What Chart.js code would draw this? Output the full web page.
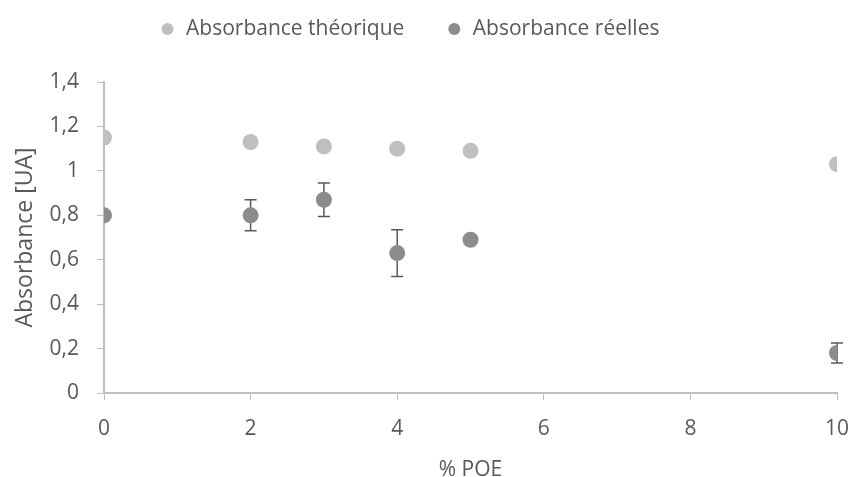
<!DOCTYPE html>
<html>
<head>
<meta charset="utf-8">
<script src="https://cdn.jsdelivr.net/npm/chart.js@4"></script>
<style>
    body { margin: 0; background: #fff; }
    #wrap { width: 851px; height: 477px; }
</style>
</head>
<body>
<div id="wrap"><canvas id="chart"></canvas></div>
<script>
// data
const poe = [0, 2, 3, 4, 5, 10];
const theorique = [1.15, 1.13, 1.11, 1.10, 1.09, 1.03];
const reelles = [0.80, 0.80, 0.87, 0.63, 0.69, 0.18];
const reellesErr = [0, 0.07, 0.075, 0.105, 0.01, 0.045];

const axisColor = '#bfbfbf';
const textColor = '#595959';
const font = "'Open Sans', 'Liberation Sans', sans-serif";

const comma = v => Number(v.toFixed(1)).toString().replace('.', ',');

// error bars for the real absorbance, drawn through the chart scales
const errorBars = {
    id: 'errorBars',
    beforeDatasetsDraw(chart) {
        const { ctx, scales: { x, y } } = chart;
        ctx.save();
        ctx.strokeStyle = '#595959';
        ctx.lineWidth = 1.5;
        poe.forEach((p, i) => {
            const e = reellesErr[i];
            if (!e) return;
            const px = x.getPixelForValue(p);
            const top = y.getPixelForValue(reelles[i] + e);
            const bot = y.getPixelForValue(reelles[i] - e);
            ctx.beginPath();
            ctx.moveTo(px, top); ctx.lineTo(px, bot);
            ctx.moveTo(px - 6, top); ctx.lineTo(px + 6, top);
            ctx.moveTo(px - 6, bot); ctx.lineTo(px + 6, bot);
            ctx.stroke();
        });
        ctx.restore();
    }
};

// legend sits higher (and a bit left) of where Chart.js puts it, with more room under it
const legendSpace = {
    id: 'legendSpace',
    beforeLayout(chart) {
        const l = chart.legend;
        if (!l || l._spaced) return;
        const fit = l.fit;
        l.fit = function () { fit.call(this); this.height += 9; };
        l._spaced = true;
    },
    afterLayout(chart) {
        const l = chart.legend;
        if (!l) return;
        l.top -= 23.5;
        l.bottom -= 23.5;
        l.left -= 9;
        l.right -= 9;
    }
};

new Chart(document.getElementById('chart'), {
    type: 'scatter',
    data: {
        datasets: [
            {
                label: 'Absorbance théorique',
                data: poe.map((p, i) => ({ x: p, y: theorique[i] })),
                backgroundColor: '#bfbfbf',
                borderWidth: 0,
                pointRadius: 8
            },
            {
                label: 'Absorbance réelles',
                data: poe.map((p, i) => ({ x: p, y: reelles[i] })),
                backgroundColor: '#8c8c8c',
                borderWidth: 0,
                pointRadius: 8
            }
        ]
    },
    options: {
        responsive: true,
        maintainAspectRatio: false,
        animation: false,
        layout: { padding: { top: 0, right: 14, left: 0, bottom: 0 } },
        plugins: {
            legend: {
                position: 'top',
                labels: {
                    usePointStyle: true,
                    pointStyle: 'circle',
                    boxWidth: 16,
                    boxHeight: 8.5,
                    padding: 42,
                    color: textColor,
                    font: { family: font, size: 21 }
                }
            },
            tooltip: { enabled: false }
        },
        scales: {
            x: {
                type: 'linear',
                min: 0, max: 10,
                afterFit(scale) {
                    scale.height = 84;
                    scale.paddingLeft = 0;
                    scale.paddingRight = 0;
                },
                ticks: { stepSize: 2, color: textColor, padding: 16, font: { family: font, size: 21 } },
                grid: { drawOnChartArea: false, drawTicks: true, tickLength: 7, color: axisColor },
                border: { color: axisColor, width: 2 },
                title: { display: true, text: '% POE', color: textColor, font: { family: font, size: 21, lineHeight: 0.7 }, padding: 0 }
            },
            y: {
                min: 0, max: 1.4,
                afterFit(scale) { scale.width = 104; },
                ticks: { stepSize: 0.2, color: textColor, padding: 18, font: { family: font, size: 21 }, callback: v => comma(v) },
                grid: { drawOnChartArea: false, drawTicks: true, tickLength: 7, color: axisColor },
                border: { color: axisColor, width: 2 },
                title: { display: true, text: 'Absorbance [UA]', color: textColor, font: { family: font, size: 23, lineHeight: 1 }, padding: { top: 14, bottom: 0 } }
            }
        }
    },
    plugins: [errorBars, legendSpace]
});
</script>
</body>
</html>
